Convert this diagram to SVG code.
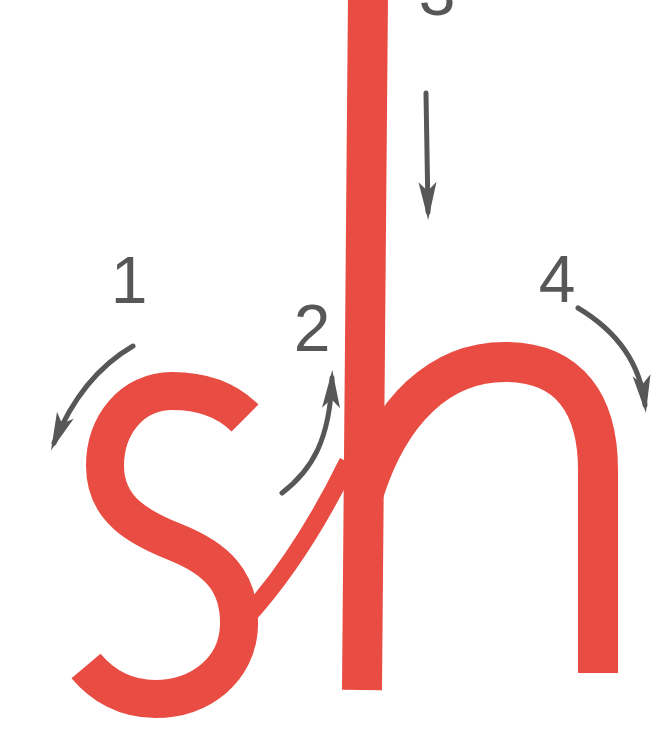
<svg xmlns="http://www.w3.org/2000/svg" width="665" height="742" viewBox="0 0 665 742">
  <style>
    .ink { fill: none; stroke: #e84c42; stroke-linecap: butt; stroke-linejoin: round; }
    .arr { fill: none; stroke: #575757; stroke-width: 5; stroke-linecap: round; marker-end: url(#head); }
    .num { font-family: "Liberation Sans", Arial, sans-serif; font-size: 66px; fill: #575757; text-anchor: middle; }
  </style>
  <defs>
    <marker id="head" markerUnits="userSpaceOnUse" viewBox="-2 -13 42 26" markerWidth="42" markerHeight="26" refX="30" refY="0" orient="auto">
      <path d="M0,-9 L38,0 L0,9 L9,0 Z" fill="#575757"/>
    </marker>
  </defs>
  <rect width="665" height="742" fill="#ffffff"/>

  <g id="letter-s">
    <path class="ink" stroke-width="38" d="M245,418 C225,398 200,391 172,391 C132,391 105,425 105,466 C105,510 140,528 175,542 C215,558 240,580 239,625 C238,670 200,699 155,699 C125,699 102,685 86,666"/>
  </g>
  <g id="join-stroke">
    <path class="ink" stroke-width="18" d="M242,622 Q300,560 348,462"/>
  </g>
  <g id="letter-h">
    <path class="ink" stroke-width="40" d="M368,-5 L362,690"/>
    <path class="ink" stroke-width="40" d="M364,492 C390,410 440,362 505,362 C570,362 598,405 598,470 L598,673"/>
  </g>

  <g id="connectors">
    <path class="arr" d="M133,346 C102,364 74,394 54,443"/>
    <path class="arr" d="M282,493 C312,470 330,440 332,378"/>
    <path class="arr" d="M426,93 L428,212"/>
    <path class="arr" d="M578,308 C615,330 640,362 645,405"/>
  </g>

  <g id="labels">
    <text class="num" x="437" y="15">3</text>
    <text class="num" x="129" y="303">1</text>
    <text class="num" x="312" y="351">2</text>
    <text class="num" x="557" y="302">4</text>
  </g>
</svg>
